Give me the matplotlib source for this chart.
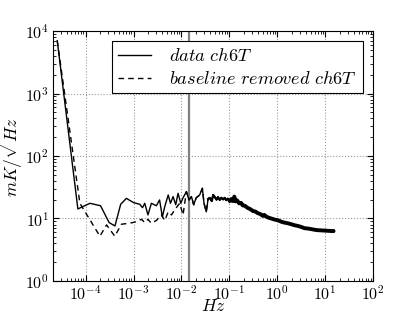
import matplotlib
matplotlib.use("Agg")
import matplotlib.pyplot as plt
from matplotlib.ticker import LogLocator

plt.rcParams['font.family'] = 'serif'
plt.rcParams['font.serif'] = ['cmr10', 'DejaVu Serif']
plt.rcParams['mathtext.fontset'] = 'cm'
plt.rcParams['axes.formatter.use_mathtext'] = True
plt.rcParams['axes.unicode_minus'] = False

# Low-frequency part, raw data
f_low_data = [2.56e-5, 6.9e-5, 1.23e-4, 2.05e-4, 3.1e-4, 4.1e-4, 5.4e-4, 7.1e-4,
              1.01e-3, 1.35e-3, 1.54e-3, 1.72e-3, 2.0e-3, 2.36e-3, 3.0e-3, 3.5e-3,
              4.0e-3, 4.5e-3, 5.3e-3, 5.9e-3, 6.7e-3, 7.6e-3, 8.5e-3, 9.7e-3,
              1.08e-2, 1.27e-2]
v_low_data = [7000, 14.2, 17.5, 16.0, 8.6, 7.6, 16.9, 21.0,
              17.9, 16.9, 14.9, 17.5, 11.4, 17.5, 16.0, 19.8,
              10.6, 15.6, 23.8, 17.5, 22.4, 16.6, 25.3, 17.5,
              21.4, 26.9]

# Low-frequency part, baseline removed
f_low_base = [2.56e-5, 7.6e-5, 1.99e-4, 2.74e-4, 4.07e-4, 5.6e-4, 8.4e-4, 1.15e-3,
              1.47e-3, 1.72e-3, 2.0e-3, 2.36e-3, 3.0e-3, 3.83e-3, 4.5e-3, 5.3e-3,
              6.2e-3, 7.3e-3, 9.2e-3, 1.08e-2, 1.27e-2]
v_low_base = [7000, 17.5, 5.2, 7.9, 5.2, 8.1, 8.4, 8.9,
              9.7, 8.6, 9.7, 8.4, 9.3, 11.4, 9.3, 12.8,
              11.4, 13.9, 17.5, 11.4, 26.9]

# Shared high-frequency part (identical in both series)
f_high = [0.0144, 0.0162, 0.018, 0.0203, 0.024, 0.0274, 0.0296, 0.033, 0.036, 0.039,
          0.043, 0.046, 0.049, 0.054, 0.058, 0.063, 0.068, 0.074, 0.08, 0.086,
          0.093, 0.101, 0.11, 0.12, 0.127, 0.135, 0.145, 0.16, 0.175, 0.19,
          0.21, 0.24, 0.27, 0.31, 0.35, 0.39, 0.44, 0.5, 0.54, 0.59,
          0.66, 0.75, 0.88, 1.03, 1.2, 1.4, 1.65, 1.95, 2.3, 2.7,
          3.2, 3.7, 4.4, 5.2, 6.0, 7.0, 8.3, 9.8, 11.5, 13.5, 15.9]
v_high = [19.8, 22.4, 16.6, 21.4, 23.8, 30.4, 17.5, 12.8, 20.5, 21.4,
          19.0, 23.8, 22.4, 20.0, 22.0, 19.8, 21.5, 20.2, 21.4, 19.6,
          20.8, 18.5, 20.5, 19.0, 22.4, 18.8, 19.5, 17.5, 17.8, 16.2,
          16.0, 14.8, 14.2, 13.2, 12.9, 12.2, 11.8, 11.0, 11.4, 10.7,
          10.3, 10.0, 9.6, 9.4, 8.9, 8.6, 8.4, 8.1, 7.8, 7.6,
          7.3, 7.0, 6.9, 6.75, 6.6, 6.5, 6.45, 6.4, 6.35, 6.3, 6.3]

cutoff = 0.0142

fig = plt.figure(figsize=(4.15, 3.12), dpi=100)
ax = fig.add_axes([0.128, 0.0994, 0.771, 0.8012])

f_data = f_low_data + f_high
v_data = v_low_data + v_high
f_base = f_low_base + f_high
v_base = v_low_base + v_high

ax.plot(f_data, v_data, color='black', lw=1.0, ls='-', label=r'$data\ ch6T$', zorder=4)
ax.plot(f_base, v_base, color='black', lw=1.0, ls='--', dashes=(4, 3),
        label=r'$baseline\ removed\ ch6T$', zorder=3)
# dense noisy tail drawn thicker
ax.plot(f_high[8:22], v_high[8:22], color='black', lw=1.6, zorder=4)
ax.plot(f_high[21:], v_high[21:], color='black', lw=2.8, solid_capstyle='butt', zorder=4)
ax.axvline(cutoff, color='#808080', lw=1.6, zorder=2)

ax.set_xscale('log')
ax.set_yscale('log')
ax.set_xlim(2.1e-5, 100)
ax.set_ylim(1, 1e4)
ax.xaxis.set_major_locator(LogLocator(base=10, numticks=20))
ax.yaxis.set_major_locator(LogLocator(base=10, numticks=20))
ax.xaxis.set_minor_locator(LogLocator(base=10, subs=range(2, 10), numticks=20))
ax.yaxis.set_minor_locator(LogLocator(base=10, subs=range(2, 10), numticks=20))
ax.grid(True, which='major', ls=':', color='#999999', lw=0.8)
ax.tick_params(which='both', direction='in', top=True, right=True, labelsize=11.5)
ax.tick_params(which='major', length=4)
ax.tick_params(axis='x', which='major', pad=2)
ax.tick_params(axis='y', which='major', pad=3)
ax.tick_params(which='minor', length=2)
ax.set_xlabel(r'$Hz$', fontsize=12.5)
ax.set_ylabel(r'$mK/\sqrt{Hz}$', fontsize=12.5)
ax.xaxis.set_label_coords(0.5, -0.068)
ax.yaxis.set_label_coords(-0.087, 0.5)

leg = ax.legend(loc='upper right', fontsize=13.2, fancybox=False, framealpha=1,
                edgecolor='black', handlelength=1.8, borderpad=0.35,
                labelspacing=0.3, handletextpad=0.97, borderaxespad=0,
                bbox_to_anchor=(0.969, 0.96))
leg.get_frame().set_linewidth(0.8)

fig.savefig('out.png', dpi=100, facecolor='white')
